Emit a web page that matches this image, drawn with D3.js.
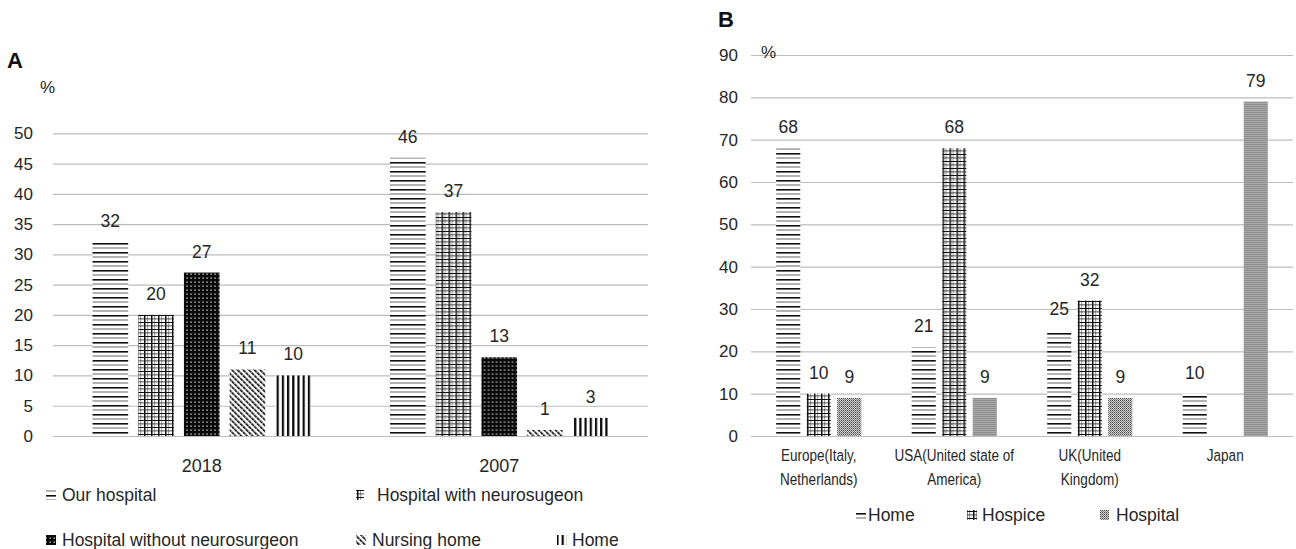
<!DOCTYPE html>
<html>
<head>
<meta charset="utf-8">
<script src="https://cdn.jsdelivr.net/npm/d3@7"></script>
<style>
  html, body { margin: 0; padding: 0; background: #fff; }
  svg { display: block; font-family: "Liberation Sans", Arial, Helvetica, sans-serif; }
</style>
</head>
<body>
<svg id="chart" width="1296" height="549"></svg>
<script>
// ---- Panel A: place of death, 2018 vs 2007 ----
const yearsA = ["2018", "2007"];
const seriesA = ["Our hospital", "Hospital with neurosugeon", "Hospital without neurosurgeon", "Nursing home", "Home"];
const values2018 = [32, 20, 27, 11, 10];
const values2007 = [46, 37, 13, 1, 3];
const ticksA = [0, 5, 10, 15, 20, 25, 30, 35, 40, 45, 50];

// ---- Panel B: place of death by region ----
const regionsB = ["Europe(Italy, Netherlands)", "USA(United state of America)", "UK(United Kingdom)", "Japan"];
const regionLinesB = [["Europe(Italy,", "Netherlands)"], ["USA(United state of", "America)"], ["UK(United", "Kingdom)"], ["Japan"]];
const seriesB = ["Home", "Hospice", "Hospital"];
const homeB = [68, 21, 25, 10];
const hospiceB = [10, 68, 32, null];
const hospitalB = [9, 9, 9, 79];
const ticksB = [0, 10, 20, 30, 40, 50, 60, 70, 80, 90];

const svg = d3.select("#chart");
const textColor = "#262626";
const gridColor = "#bdbdbd";

// ---- fill patterns ----
const defs = svg.append("defs");
function pattern(id, w, h) {
  return defs.append("pattern").attr("id", id).attr("patternUnits", "userSpaceOnUse")
    .attr("width", w).attr("height", h);
}
// horizontal lines, alternating heavy and light
{
  const p = pattern("p-hlines", 6, 9);
  p.append("rect").attr("width", 6).attr("height", 9).attr("fill", "#fff");
  p.append("rect").attr("y", 0).attr("width", 6).attr("height", 1.6).attr("fill", "#111");
  p.append("rect").attr("y", 4.5).attr("width", 6).attr("height", 1).attr("fill", "#666");
}
// grid (cross hatch): heavy lines every 7px, light lines in between
{
  const p = pattern("p-grid", 7, 7);
  p.append("rect").attr("width", 7).attr("height", 7).attr("fill", "#fff");
  p.append("rect").attr("x", 0).attr("width", 1.5).attr("height", 7).attr("fill", "#111");
  p.append("rect").attr("x", 3.5).attr("width", 0.6).attr("height", 7).attr("fill", "#555");
  p.append("rect").attr("y", 0).attr("width", 7).attr("height", 1).attr("fill", "#111");
  p.append("rect").attr("y", 3.5).attr("width", 7).attr("height", 0.8).attr("fill", "#222");
}
// black with white dots
{
  const p = pattern("p-dots", 4, 4);
  p.append("rect").attr("width", 4).attr("height", 4).attr("fill", "#0a0a0a");
  p.append("rect").attr("x", 1.5).attr("y", 1.5).attr("width", 1.2).attr("height", 1.2).attr("fill", "#fff");
}
// downward diagonal stripes
{
  const p = pattern("p-diag", 4, 4).attr("patternTransform", "rotate(-45)");
  p.append("rect").attr("width", 4).attr("height", 4).attr("fill", "#fff");
  p.append("rect").attr("x", 0).attr("width", 1.7).attr("height", 4).attr("fill", "#111");
  p.append("rect").attr("x", 0).attr("y", 3).attr("width", 1.7).attr("height", 0.6).attr("fill", "#fff");
}
// vertical bars
{
  const p = pattern("p-vlines", 5.2, 6);
  p.append("rect").attr("width", 5.2).attr("height", 6).attr("fill", "#fff");
  p.append("rect").attr("x", 0).attr("width", 2.2).attr("height", 6).attr("fill", "#0a0a0a");
}
// fine gray stipple
{
  const p = pattern("p-stipple", 2, 2);
  p.append("rect").attr("width", 2).attr("height", 2).attr("fill", "#d2d2d2");
  p.append("rect").attr("x", 0).attr("y", 0).attr("width", 1).attr("height", 1).attr("fill", "#4a4a4a");
  p.append("rect").attr("x", 1).attr("y", 1).attr("width", 1).attr("height", 1).attr("fill", "#808080");
}

const fillsA = ["url(#p-hlines)", "url(#p-grid)", "url(#p-dots)", "url(#p-diag)", "url(#p-vlines)"];
const fillsB = ["url(#p-hlines)", "url(#p-grid)", "url(#p-stipple)"];

// ================= Panel A =================
const gA = svg.append("g");
const yA = d3.scaleLinear().domain([0, 50]).range([436, 133.3]);
const x0A = d3.scaleBand().domain(yearsA).range([53, 648]);
const x1A = d3.scaleBand().domain(seriesA).range([0, x0A.bandwidth()]).paddingInner(0.22).paddingOuter(0.865);

gA.append("text").attr("x", 7).attr("y", 68).attr("font-size", 22).attr("font-weight", "bold")
  .attr("fill", "#111").text("A");
gA.append("text").attr("x", 40).attr("y", 93).attr("font-size", 17).attr("fill", textColor).text("%");

const axisA = d3.axisLeft(yA).tickValues(ticksA).tickSize(-(648 - 53)).tickPadding(20).tickFormat(d3.format("d"));
const axA = gA.append("g").attr("transform", "translate(53,0)").call(axisA);
axA.select(".domain").remove();
axA.selectAll(".tick line").attr("stroke", gridColor).attr("stroke-width", 1.2);
axA.selectAll(".tick text").attr("font-size", 17).attr("fill", textColor)
  .attr("font-family", "'Liberation Sans', Arial, sans-serif");

const rowsA = yearsA.map((y, i) => ({ year: y, values: i === 0 ? values2018 : values2007 }));
const groupsA = gA.selectAll("g.grp").data(rowsA).join("g").attr("class", "grp")
  .attr("transform", d => `translate(${x0A(d.year)},0)`);
groupsA.selectAll("rect").data(d => d.values.map((v, j) => ({ key: seriesA[j], v, j }))).join("rect")
  .attr("x", d => x1A(d.key)).attr("width", x1A.bandwidth())
  .attr("y", d => yA(d.v)).attr("height", d => yA(0) - yA(d.v))
  .attr("fill", d => fillsA[d.j]);
groupsA.selectAll("text.val").data(d => d.values.map((v, j) => ({ key: seriesA[j], v }))).join("text")
  .attr("class", "val").attr("x", d => x1A(d.key) + x1A.bandwidth() / 2).attr("y", d => yA(d.v) - 15)
  .attr("text-anchor", "middle").attr("font-size", 17.5).attr("fill", textColor).text(d => d.v);

gA.selectAll("text.cat").data(yearsA).join("text").attr("class", "cat")
  .attr("x", d => x0A(d) + x0A.bandwidth() / 2).attr("y", 472).attr("text-anchor", "middle")
  .attr("font-size", 18).attr("fill", textColor).text(d => d);

// legend A
const legendA = [
  { i: 0, sx: 46, tx: 62, y: 495 },
  { i: 1, sx: 356, tx: 377, y: 495 },
  { i: 2, sx: 46, tx: 62, y: 540 },
  { i: 3, sx: 356, tx: 372, y: 540 },
  { i: 4, sx: 557, tx: 572, y: 540 }
];
const legA = gA.selectAll("g.leg").data(legendA).join("g").attr("class", "leg");
legA.append("rect").attr("x", d => d.sx).attr("y", d => d.y - 5).attr("width", d => d.i === 1 ? 8 : 10).attr("height", 10)
  .attr("fill", d => fillsA[d.i]);
legA.append("text").attr("x", d => d.tx).attr("y", d => d.y + 6).attr("font-size", 17.5).attr("fill", textColor)
  .text(d => seriesA[d.i]);

// ================= Panel B =================
const gB = svg.append("g");
const yB = d3.scaleLinear().domain([0, 90]).range([436, 55]);
const x0B = d3.scaleBand().domain(regionsB).range([751, 1293]);
const x1B = d3.scaleBand().domain(seriesB).range([0, x0B.bandwidth()]).paddingInner(0.21).paddingOuter(0.825);

gB.append("text").attr("x", 718).attr("y", 27).attr("font-size", 22).attr("font-weight", "bold")
  .attr("fill", "#111").text("B");

const axisB = d3.axisLeft(yB).tickValues(ticksB).tickSize(-(1293 - 751)).tickPadding(13).tickFormat(d3.format("d"));
const axB = gB.append("g").attr("transform", "translate(751,0)").call(axisB);
axB.select(".domain").remove();
axB.selectAll(".tick line").attr("stroke", gridColor).attr("stroke-width", 1.2);
axB.selectAll(".tick text").attr("font-size", 17).attr("fill", textColor)
  .attr("font-family", "'Liberation Sans', Arial, sans-serif");

gB.append("text").attr("x", 761).attr("y", 58).attr("font-size", 17).attr("fill", textColor).text("%");

const rowsB = regionsB.map((r, i) => ({ region: r, values: [homeB[i], hospiceB[i], hospitalB[i]] }));
const groupsB = gB.selectAll("g.grp").data(rowsB).join("g").attr("class", "grp")
  .attr("transform", d => `translate(${x0B(d.region)},0)`);
const itemsB = d => d.values.map((v, j) => ({ key: seriesB[j], v, j })).filter(e => e.v != null);
groupsB.selectAll("rect").data(itemsB).join("rect")
  .attr("x", d => x1B(d.key)).attr("width", x1B.bandwidth())
  .attr("y", d => yB(d.v)).attr("height", d => yB(0) - yB(d.v))
  .attr("fill", d => fillsB[d.j]);
groupsB.selectAll("text.val").data(itemsB).join("text")
  .attr("class", "val").attr("x", d => x1B(d.key) + x1B.bandwidth() / 2).attr("y", d => yB(d.v) - 15)
  .attr("text-anchor", "middle").attr("font-size", 17.5).attr("fill", textColor).text(d => d.v);

// two-line region labels in a narrow face
const catFont = "'Liberation Sans Narrow', 'Arial Narrow', 'Liberation Sans', sans-serif";
const catB = gB.selectAll("text.cat").data(regionsB).join("text").attr("class", "cat")
  .attr("text-anchor", "middle").attr("font-size", 16.5).attr("fill", textColor)
  .attr("font-family", catFont)
  .attr("transform", d => `translate(${x0B(d) + x0B.bandwidth() / 2},0)`);
catB.selectAll("tspan").data((d, i) => regionLinesB[i]).join("tspan")
  .attr("x", 0).attr("y", (d, k) => 461 + k * 24).text(d => d);

// fall back to horizontal compression if no narrow face is installed
(function () {
  const probe = svg.append("text").attr("font-size", 16.5).attr("font-family", catFont).text("Europe(Italy,");
  const probe2 = svg.append("text").attr("font-size", 16.5)
    .attr("font-family", "'Liberation Sans', sans-serif").text("Europe(Italy,");
  const ratio = probe.node().getComputedTextLength() / probe2.node().getComputedTextLength();
  probe.remove(); probe2.remove();
  if (ratio > 0.92) {
    catB.attr("transform", d => `translate(${x0B(d) + x0B.bandwidth() / 2},0) scale(0.82,1)`);
  }
})();

// legend B
const legendB = [
  { i: 0, sx: 856, tx: 868 },
  { i: 1, sx: 967, tx: 982 },
  { i: 2, sx: 1100, tx: 1116 }
];
const legB = gB.selectAll("g.leg").data(legendB).join("g").attr("class", "leg");
legB.append("rect").attr("x", d => d.sx).attr("y", 510).attr("width", d => d.i === 2 ? 9 : 10).attr("height", 10)
  .attr("fill", d => fillsB[d.i]);
legB.append("text").attr("x", d => d.tx).attr("y", 521).attr("font-size", 17.5).attr("fill", textColor)
  .text(d => seriesB[d.i]);
</script>
</body>
</html>
